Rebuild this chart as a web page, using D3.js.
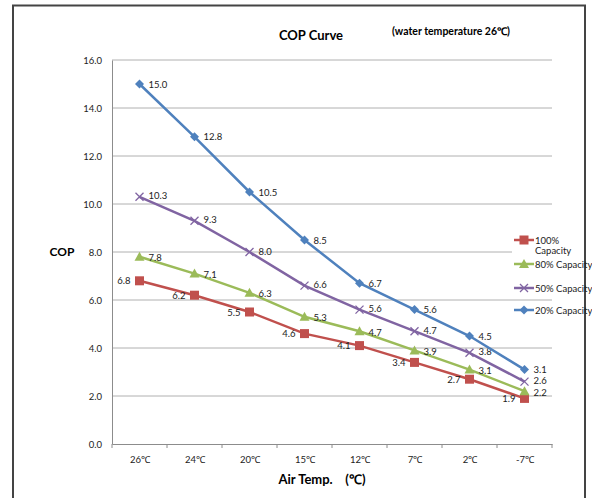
<!DOCTYPE html>
<html>
<head>
<meta charset="utf-8">
<script src="https://cdn.jsdelivr.net/npm/d3@7"></script>
<style>
  body { margin: 0; background: #fff; }
  svg text { font-family: Lato, "Open Sans", sans-serif; }
</style>
</head>
<body>
<div id="chart"></div>
<script>
var svgWidth = 592;
var svgHeight = 498;

// chart data
var airTemps = ["26℃", "24℃", "20℃", "15℃", "12℃", "7℃", "2℃", "-7℃"];
var cap100 = [6.8, 6.2, 5.5, 4.6, 4.1, 3.4, 2.7, 1.9];
var cap80 = [7.8, 7.1, 6.3, 5.3, 4.7, 3.9, 3.1, 2.2];
var cap50 = [10.3, 9.3, 8.0, 6.6, 5.6, 4.7, 3.8, 2.6];
var cap20 = [15.0, 12.8, 10.5, 8.5, 6.7, 5.6, 4.5, 3.1];
var yTicks = [0, 2, 4, 6, 8, 10, 12, 14, 16];

var series = [
  { name: "100% Capacity", values: cap100, color: "#C0504D", marker: "square", labelSide: "left", dy: 3.5 },
  { name: "80% Capacity", values: cap80, color: "#9BBB59", marker: "triangle", labelSide: "right", dy: 4.5 },
  { name: "50% Capacity", values: cap50, color: "#8064A2", marker: "x", labelSide: "right", dy: 2.5 },
  { name: "20% Capacity", values: cap20, color: "#4F81BD", marker: "diamond", labelSide: "right", dy: 3.5 }
];

var chartMargin = { top: 60, right: 40, bottom: 54, left: 112 };
var width = 552 - chartMargin.left;
var height = 444 - chartMargin.top;

var svg = d3.select("#chart")
  .append("svg")
  .attr("width", svgWidth)
  .attr("height", svgHeight);

// outer frame
svg.append("path")
  .attr("d", "M13,498 L13,5.5 L585,5.5 L585,498")
  .attr("fill", "none")
  .attr("stroke", "#444")
  .attr("stroke-width", 2);

var chartGroup = svg.append("g")
  .attr("transform", `translate(${chartMargin.left}, ${chartMargin.top})`);

var xScale = d3.scalePoint()
  .domain(airTemps)
  .range([0, width])
  .padding(0.5);

var yScale = d3.scaleLinear()
  .domain([0, 16])
  .range([height, 0]);

// gridlines
chartGroup.selectAll(".grid")
  .data(yTicks.slice(1))
  .enter()
  .append("line")
  .attr("x1", 0)
  .attr("x2", width)
  .attr("y1", d => yScale(d))
  .attr("y2", d => yScale(d))
  .attr("stroke", "#b0b0b0")
  .attr("stroke-width", 1);

// y axis
var leftAxis = d3.axisLeft(yScale)
  .tickValues(yTicks)
  .tickFormat(d3.format(".1f"))
  .tickSize(0)
  .tickPadding(10);

var yAxis = chartGroup.append("g").call(leftAxis);
yAxis.select(".domain").attr("stroke", "#8c8c8c");
yAxis.selectAll("text").attr("font-size", 9.5).attr("fill", "#222");

// x axis
var step = xScale.step();
var bottomAxis = d3.axisBottom(xScale).tickSize(0).tickPadding(12);
var xAxis = chartGroup.append("g")
  .attr("transform", `translate(0, ${height})`)
  .call(bottomAxis);
xAxis.select(".domain").attr("stroke", "#8c8c8c");
xAxis.selectAll("text").attr("font-size", 9.5).attr("fill", "#222");

// category boundary ticks
chartGroup.selectAll(".xtick")
  .data(d3.range(airTemps.length + 1))
  .enter()
  .append("line")
  .attr("x1", d => d * step)
  .attr("x2", d => d * step)
  .attr("y1", height)
  .attr("y2", height + 4)
  .attr("stroke", "#8c8c8c");

var line = d3.line()
  .x((d, i) => xScale(airTemps[i]))
  .y(d => yScale(d));

function drawMarker(g, type, color) {
  if (type === "square") {
    g.append("rect").attr("x", -4.5).attr("y", -4.5).attr("width", 9).attr("height", 9).attr("fill", color);
  } else if (type === "triangle") {
    g.append("path").attr("d", "M0,-5 L5,4 L-5,4 Z").attr("fill", color);
  } else if (type === "diamond") {
    g.append("path").attr("d", "M0,-4.5 L4.5,0 L0,4.5 L-4.5,0 Z").attr("fill", color);
  } else {
    g.append("path").attr("d", "M-4,-4 L4,4 M-4,4 L4,-4").attr("stroke", color).attr("stroke-width", 1.3);
  }
}

series.forEach(function(s) {
  chartGroup.append("path")
    .datum(s.values)
    .attr("d", line)
    .attr("fill", "none")
    .attr("stroke", s.color)
    .attr("stroke-width", 2.5);

  chartGroup.selectAll(null)
    .data(s.values)
    .enter()
    .append("g")
    .attr("transform", (d, i) => `translate(${xScale(airTemps[i])}, ${yScale(d)})`)
    .each(function() { drawMarker(d3.select(this), s.marker, s.color); });

  chartGroup.selectAll(null)
    .data(s.values)
    .enter()
    .append("text")
    .attr("x", (d, i) => xScale(airTemps[i]) + (s.labelSide === "left" ? -9 : 9))
    .attr("y", d => yScale(d) + s.dy)
    .attr("text-anchor", s.labelSide === "left" ? "end" : "start")
    .attr("font-size", 9.5)
    .attr("fill", "#222")
    .text(d => d.toFixed(1));
});

// legend
var legend = svg.append("g").attr("transform", "translate(512, 233)");
legend.append("rect")
  .attr("x", 0).attr("y", 0).attr("width", 72).attr("height", 60)
  .attr("fill", "#fff");

var legendY = [7, 31, 55, 77];
series.forEach(function(s, i) {
  var lg = legend.append("g").attr("transform", `translate(0, ${legendY[i]})`);
  lg.append("line").attr("x1", 2).attr("x2", 22).attr("y1", 0).attr("y2", 0)
    .attr("stroke", s.color).attr("stroke-width", 2.5);
  var m = lg.append("g").attr("transform", "translate(12, 0)");
  drawMarker(m, s.marker, s.color);
  if (i === 0) {
    lg.append("text").attr("x", 23).attr("y", 3.5).attr("font-size", 9.5).attr("fill", "#222").text("100%");
    lg.append("text").attr("x", 23).attr("y", 14).attr("font-size", 9.5).attr("fill", "#222").text("Capacity");
  } else {
    lg.append("text").attr("x", 23).attr("y", 3.5).attr("font-size", 9.5).attr("fill", "#222").text(s.name);
  }
});

// titles
svg.append("text")
  .attr("x", 311).attr("y", 40)
  .attr("text-anchor", "middle")
  .attr("font-size", 13).attr("font-weight", "bold")
  .text("COP Curve");

svg.append("text")
  .attr("x", 451).attr("y", 35)
  .attr("text-anchor", "middle")
  .attr("font-size", 10.5).attr("font-weight", "bold")
  .text("(water  temperature 26℃)");

svg.append("text")
  .attr("x", 62).attr("y", 256)
  .attr("text-anchor", "middle")
  .attr("font-size", 12).attr("font-weight", "bold")
  .text("COP");

svg.append("text")
  .attr("x", 322).attr("y", 484)
  .attr("text-anchor", "middle")
  .attr("font-size", 13).attr("font-weight", "bold")
  .attr("xml:space", "preserve")
  .text("Air Temp.    (℃)");
</script>
</body>
</html>
